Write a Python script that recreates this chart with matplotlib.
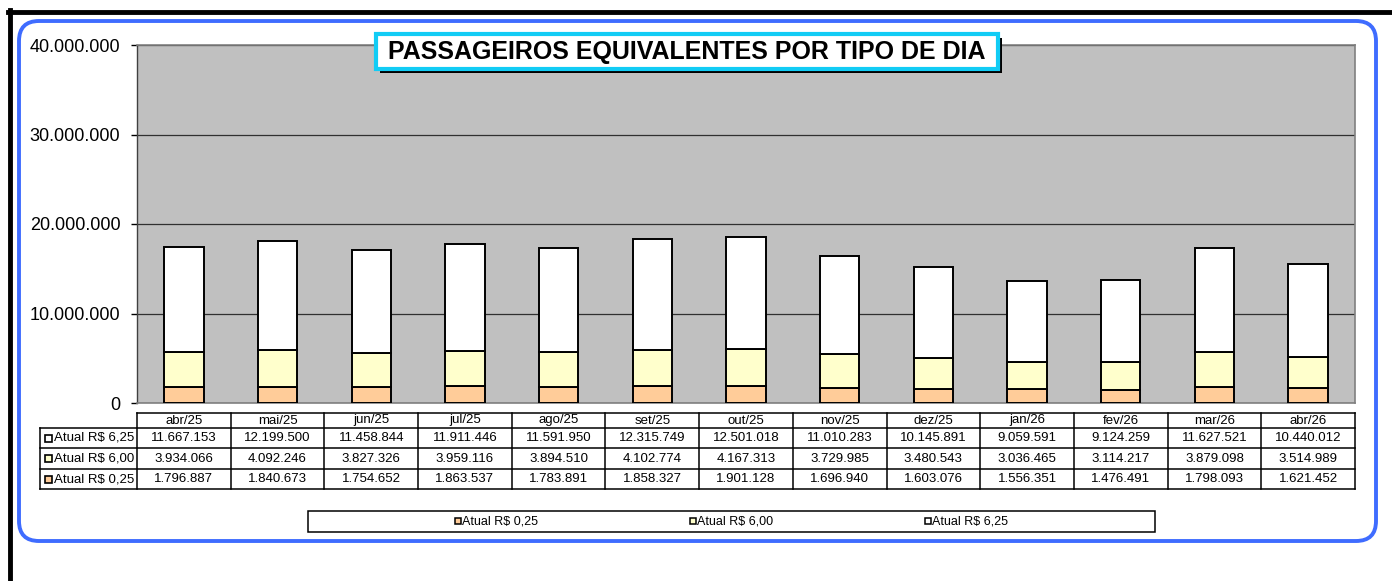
import matplotlib
matplotlib.use("Agg")
import matplotlib.pyplot as plt
from matplotlib.patches import FancyBboxPatch, Rectangle
from matplotlib.lines import Line2D
from matplotlib.transforms import Affine2D

# dados (passageiros equivalentes por mes)
meses = ['abr/25', 'mai/25', 'jun/25', 'jul/25', 'ago/25', 'set/25', 'out/25',
         'nov/25', 'dez/25', 'jan/26', 'fev/26', 'mar/26', 'abr/26']
atual_625 = [11667153, 12199500, 11458844, 11911446, 11591950, 12315749, 12501018,
             11010283, 10145891, 9059591, 9124259, 11627521, 10440012]
atual_600 = [3934066, 4092246, 3827326, 3959116, 3894510, 4102774, 4167313,
             3729985, 3480543, 3036465, 3114217, 3879098, 3514989]
atual_025 = [1796887, 1840673, 1754652, 1863537, 1783891, 1858327, 1901128,
             1696940, 1603076, 1556351, 1476491, 1798093, 1621452]
y_ticks = [0, 10000000, 20000000, 30000000, 40000000]

series = [
    ('Atual R$ 0,25', atual_025, '#FFCC99'),
    ('Atual R$ 6,00', atual_600, '#FFFFCC'),
    ('Atual R$ 6,25', atual_625, '#FFFFFF'),
]

W, H = 1392, 581
FONT = ['Liberation Sans', 'DejaVu Sans']
NARROW = ['Liberation Sans Narrow', 'Liberation Sans', 'DejaVu Sans']


def fmt(v):
    return f"{v:,}".replace(',', '.')


fig = plt.figure(figsize=(W / 100, H / 100), dpi=100)
fig.patch.set_facecolor('white')
# pixel transform (x from left, y from top)
pix = Affine2D().scale(1 / W, -1 / H).translate(0, 1) + fig.transFigure

# moldura preta externa
fig.add_artist(Line2D([8, W], [12, 12], transform=pix, color='black', lw=3.5))
fig.add_artist(Line2D([10, 10], [10, H], transform=pix, color='black', lw=3.5))

# caixa azul arredondada
fig.add_artist(FancyBboxPatch((19, 21), 1357, 520, boxstyle='round,pad=0,rounding_size=20',
                              transform=pix, facecolor='none', edgecolor='#3F6CFF', lw=2.8))

# area do grafico
L, R, T, B = 137, 1355, 45, 403
ax = fig.add_axes([L / W, 1 - B / H, (R - L) / W, (B - T) / H])
ax.set_facecolor('#C0C0C0')
x = list(range(len(meses)))
bottom = [0] * len(meses)
for nome, vals, cor in series:
    ax.bar(x, vals, width=0.42, bottom=bottom, color=cor, edgecolor='black', lw=1.4, zorder=3)
    bottom = [b + v for b, v in zip(bottom, vals)]

ax.set_xlim(-0.5, len(meses) - 0.5)
ax.set_ylim(0, 40000000)
ax.set_yticks(y_ticks)
ax.set_yticklabels([fmt(v) for v in y_ticks], fontsize=13, family=FONT)
ax.set_xticks([])
ax.tick_params(axis='y', direction='out', length=4, width=1, pad=8)
ax.yaxis.grid(True, color='#303030', lw=0.9, zorder=1)
for s in ['top', 'right', 'bottom']:
    ax.spines[s].set_color('#808080')
    ax.spines[s].set_linewidth(1.2)
ax.spines['left'].set_color('#404040')
ax.spines['left'].set_linewidth(1)

# titulo
tx0, ty0, tw, th = 376, 34, 622, 35
fig.add_artist(Rectangle((tx0 + 4, ty0 + 4), tw, th, transform=pix, facecolor='black', edgecolor='none'))
fig.add_artist(Rectangle((tx0, ty0), tw, th, transform=pix, facecolor='white', edgecolor='#11CCF5', lw=3))
fig.text((tx0 + tw / 2) / W, 1 - (ty0 + th / 2 + 1) / H, 'PASSAGEIROS EQUIVALENTES POR TIPO DE DIA',
         ha='center', va='center', fontsize=18, fontweight='bold', family=FONT)

# tabela de dados
col_w = (R - L) / len(meses)
row_y = [413, 428, 448, 469, 489]
lab_l = 40
kw = dict(transform=pix, color='black', lw=1.1)
fig.add_artist(Line2D([L, R], [row_y[0], row_y[0]], **kw))
for yy in row_y[1:]:
    fig.add_artist(Line2D([lab_l, R], [yy, yy], **kw))
fig.add_artist(Line2D([lab_l, lab_l], [row_y[1], row_y[-1]], **kw))
for i in range(len(meses) + 1):
    xx = L + i * col_w
    fig.add_artist(Line2D([xx, xx], [row_y[0], row_y[-1]], **kw))

for i, m in enumerate(meses):
    cx = L + (i + 0.5) * col_w
    fig.text(cx / W, 1 - (row_y[0] + row_y[1]) / 2 / H, m, ha='center', va='center',
             fontsize=9.5, family=FONT)

for r, (nome, vals, cor) in enumerate(reversed(series)):
    cy = (row_y[r + 1] + row_y[r + 2]) / 2
    fig.add_artist(Rectangle((45, cy - 3.5), 7, 7, transform=pix, facecolor=cor, edgecolor='black', lw=1.2))
    fig.text(54 / W, 1 - cy / H, nome, ha='left', va='center', fontsize=9.5, family=FONT)
    for i, v in enumerate(vals):
        cx = L + (i + 0.5) * col_w
        fig.text(cx / W, 1 - cy / H, fmt(v), ha='center', va='center', fontsize=9.5, family=FONT)

# legenda
fig.add_artist(Rectangle((308, 511), 847, 21, transform=pix, facecolor='white', edgecolor='black', lw=1.1))
for k, (nome, vals, cor) in enumerate(series):
    lx = 455 + k * 235
    fig.add_artist(Rectangle((lx, 518), 6, 6, transform=pix, facecolor=cor, edgecolor='black', lw=1.1))
    fig.text((lx + 7) / W, 1 - 521.5 / H, nome, ha='left', va='center', fontsize=9, family=NARROW)

fig.savefig('out.png', dpi=100)
